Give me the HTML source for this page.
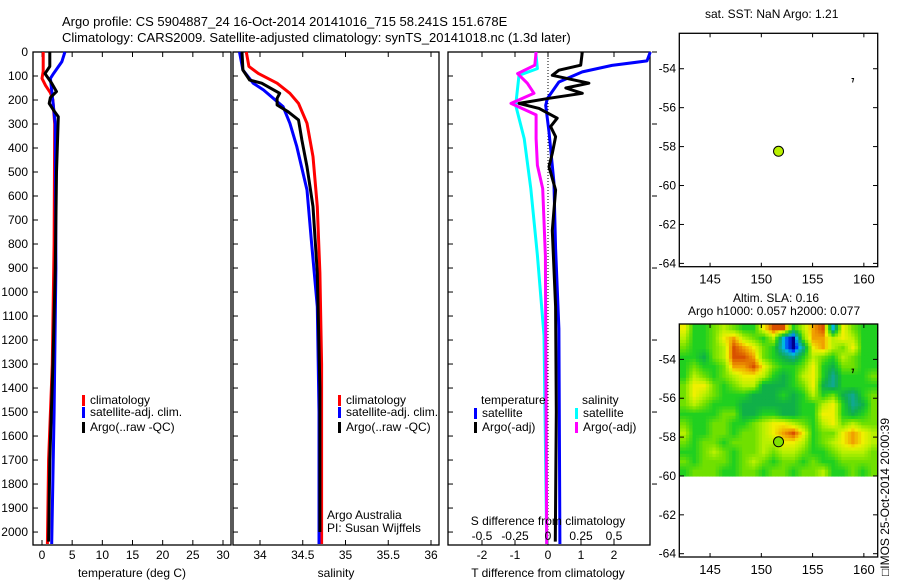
<!DOCTYPE html>
<html><head><meta charset="utf-8"><style>
html,body{margin:0;padding:0;background:#fff;}
svg{display:block;font-family:"Liberation Sans",sans-serif;}
text{font-size:12px;fill:#000;}
</style></head><body>
<svg id="c" width="900" height="580" viewBox="0 0 900 580" xmlns="http://www.w3.org/2000/svg">
<text x="62" y="26" style="font-size:13px">Argo profile: CS 5904887_24 16-Oct-2014 20141016_715 58.241S 151.678E</text>
<text x="62" y="42" style="font-size:13px">Climatology: CARS2009. Satellite-adjusted climatology: synTS_20141018.nc (1.3d later)</text>
<text x="705" y="18">sat. SST: NaN Argo: 1.21</text>
<text x="733" y="302">Altim. SLA: 0.16</text>
<text x="688" y="315">Argo h1000: 0.057 h2000: 0.077</text>
<text transform="translate(889,576) rotate(-90)">□IMOS 25-Oct-2014 20:00:39</text>
<g id="g"></g>
</svg>
<script>
// ---------- data ----------
const depthTicks = [0,100,200,300,400,500,600,700,800,900,1000,1100,1200,1300,1400,1500,1600,1700,1800,1900,2000];
const tempTicks = [0,5,10,15,20,25,30];
const salTicks = [34,34.5,35,35.5,36];
const salTickLabels = ["34","34.5","35","35.5","36"];
const tdiffTicks = [-2,-1,0,1,2];
const sdiffTicks = [-0.5,-0.25,0,0.25,0.5];
const sdiffTickLabels = ["-0.5","-0.25","0","0.25","0.5"];

const tempClimDepth = [0,80,110,140,170,200,300,800,1300,1700,2050];
const tempClimVal   = [0.2,0.2,0.0,0.6,1.4,1.8,2.1,2.0,1.7,1.1,0.9];
const tempSatDepth  = [0,40,90,110,160,300,900,1500,2050];
const tempSatVal    = [3.8,3.3,1.9,1.4,1.6,2.2,2.3,2.0,1.6];
const tempArgoDepth = [0,60,90,130,165,190,214,242,270,500,900,1300,1700,2040];
const tempArgoVal   = [1.3,1.3,0.5,1.6,2.4,1.4,1.2,1.9,2.7,2.4,2.2,1.8,1.3,1.1];

const salClimDepth = [0,60,89,130,172,214,297,436,644,921,1300,2050];
const salClimVal   = [33.84,33.87,33.98,34.20,34.35,34.45,34.55,34.62,34.67,34.70,34.72,34.72];
const salSatDepth  = [0,75,130,158,228,297,394,575,783,1061,1500,2050];
const salSatVal    = [33.76,33.80,33.92,34.04,34.27,34.35,34.43,34.55,34.60,34.67,34.69,34.69];
const salArgoDepth = [0,75,117,130,172,193,221,249,283,367,478,644,921,1400,2000];
const salArgoVal   = [33.79,33.80,33.88,34.02,34.23,34.20,34.20,34.33,34.45,34.49,34.55,34.62,34.67,34.70,34.70];

const dTSatDepth  = [0,37,56,83,125,194,222,333,542,819,1153,2050];
const dTSatVal    = [3.1,3.0,1.94,1.04,0.33,-0.02,-0.07,0.03,0.18,0.23,0.33,0.36];
const dTArgoDepth = [0,55,76,97,130,150,172,193,214,235,276,311,353,422,478,575,744,1061,1500,2040];
const dTArgoVal   = [1.04,0.99,0.33,0.13,1.24,0.54,1.04,0.03,-0.88,-0.27,0.28,0.08,0.23,0.13,0.03,0.23,0.13,0.23,0.25,0.22];
const dSSatDepth  = [0,69,97,222,361,569,847,1180,2050];
const dSSatVal    = [-0.093,-0.08,-0.22,-0.245,-0.18,-0.13,-0.08,-0.03,-0.01];
const dSArgoDepth = [0,55,90,130,172,214,262,361,472,569,850,2050];
const dSArgoVal   = [-0.09,-0.10,-0.23,-0.157,-0.106,-0.28,-0.09,-0.09,-0.08,-0.04,-0.02,-0.01];

const latTicks = [-54,-56,-58,-60,-62,-64];
const lonTicks = [145,150,155,160];
const argoLon = 151.678, argoLat = -58.241;
const slaRows = [
[3,0,0,1,2,1,0,0,3,5,5,0,2,4,5,-3,3,1,0,0],
[2,0,0,1,3,4,2,1,0,2,-3,-5,1,4,4,2,3,2,0,0],
[1,0,0,1,2,5,4,3,1,0,-3,-5,-2,3,4,2,1,3,0,0],
[0,0,-1,1,2,5,5,4,1,0,-1,-2,0,2,1,0,2,1,0,0],
[0,1,0,0,1,4,4,5,3,1,0,0,1,3,0,-1,1,1,0,0],
[0,2,1,0,1,2,3,3,2,0,-1,0,2,3,0,-2,0,0,0,1],
[1,3,3,1,0,1,2,2,-1,-1,-1,0,1,3,-1,-2,0,0,0,0],
[1,3,2,1,0,0,0,-1,-1,-1,0,-1,0,2,0,1,-1,-2,0,1],
[1,2,1,0,0,0,-1,-1,-1,-1,-1,-1,0,0,2,3,0,-2,-1,1],
[0,0,0,0,1,1,-1,-1,0,0,-1,-1,0,0,3,3,0,-1,0,1],
[1,0,0,1,1,0,0,1,2,3,3,2,1,0,2,3,1,2,1,1],
[2,0,0,1,1,0,1,1,2,3,4,5,3,0,1,1,3,4,3,2],
[1,0,1,1,0,1,1,1,2,2,3,3,2,0,1,2,3,4,3,2],
[0,0,1,2,1,0,1,1,2,1,2,2,1,0,0,1,2,2,2,1],
[1,0,1,1,1,0,1,2,1,0,1,1,0,1,0,0,1,1,1,1],
[0,1,1,1,0,0,1,1,0,1,1,0,1,1,2,0,0,1,0,1]
];

// ---------- helpers ----------
const NS="http://www.w3.org/2000/svg";
const G=document.getElementById('g');
function el(tag,attrs,parent){const e=document.createElementNS(NS,tag);for(const k in attrs)e.setAttribute(k,attrs[k]);(parent||G).appendChild(e);return e;}
function lin(d0,d1,r0,r1){return v=>r0+(v-d0)*(r1-r0)/(d1-d0);}
const TOP=52,BOT=545;
const yD=lin(0,2054,TOP,BOT);
const P1={l:33,r:231}, P2={l:233,r:439}, P3={l:448,r:650};
const xT=lin(0,30,42,223);
const xS=lin(34,36,260,431);
const xDT=lin(0,1,548,581);
const xDS=lin(0,0.25,548,581);

function box(p,name){
  const r=el('rect',{x:p.l,y:TOP,width:p.r-p.l,height:BOT-TOP,fill:'none',stroke:'#000','stroke-width':1.3});
  
  
  depthTicks.forEach(d=>{const y=yD(d);
    el('line',{x1:p.l,x2:p.l+5,y1:y,y2:y,stroke:'#000'});
  });
}
function line(xs,ds,xf,color,w,name){
  const pts=xs.map((v,i)=>xf(v).toFixed(1)+','+yD(ds[i]).toFixed(1)).join(' ');
  const pl=el('polyline',{points:pts,fill:'none',stroke:color,'stroke-width':w,'stroke-linejoin':'round'});
  
  
}
function txt(x,y,s,anchor,name,size){
  const t=el('text',{x:x,y:y,'text-anchor':anchor||'start'});
  if(size)t.style.fontSize=size+'px';
  t.textContent=s;
  
  
  return t;
}
function legend(x,y,color,label,name){
  el('rect',{x:x,y:y-9,width:3,height:11,fill:color});
  txt(x+8,y,label,'start',name);
}

// ---------- panel 1 temperature ----------
box(P1,'temperature-panel');
depthTicks.forEach(d=>txt(28,yD(d)+4,String(d),'end','depth-tick-label'));
tempTicks.forEach(t=>{el('line',{x1:xT(t),x2:xT(t),y1:TOP,y2:TOP+5,stroke:'#000'});el('line',{x1:xT(t),x2:xT(t),y1:BOT,y2:BOT-5,stroke:'#000'});txt(xT(t),559,String(t),'middle','temp-tick-label');});
txt(132,577,'temperature (deg C)','middle','temperature-axis-title');
line(tempClimVal,tempClimDepth,xT,'#ff0000',3,'temp-climatology-line');
line(tempSatVal,tempSatDepth,xT,'#0000ff',3,'temp-satellite-line');
line(tempArgoVal,tempArgoDepth,xT,'#000000',3,'temp-argo-line');
legend(82,404,'#ff0000','climatology','legend-climatology');
legend(82,416,'#0000ff','satellite-adj. clim.','legend-satellite');
legend(82,431,'#000000','Argo(..raw -QC)','legend-argo');

// ---------- panel 2 salinity ----------
box(P2,'salinity-panel');
salTicks.forEach((s,i)=>{el('line',{x1:xS(s),x2:xS(s),y1:TOP,y2:TOP+5,stroke:'#000'});el('line',{x1:xS(s),x2:xS(s),y1:BOT,y2:BOT-5,stroke:'#000'});txt(xS(s),559,salTickLabels[i],'middle','salinity-tick-label');});
txt(336,577,'salinity','middle','salinity-axis-title');
line(salClimVal,salClimDepth,xS,'#ff0000',3,'sal-climatology-line');
line(salSatVal,salSatDepth,xS,'#0000ff',3,'sal-satellite-line');
line(salArgoVal,salArgoDepth,xS,'#000000',3,'sal-argo-line');
legend(338,404,'#ff0000','climatology','legend-climatology-2');
legend(338,416,'#0000ff','satellite-adj. clim.','legend-satellite-2');
legend(338,431,'#000000','Argo(..raw -QC)','legend-argo-2');
txt(327,519,'Argo Australia','start','credit-argo-australia');
txt(327,532,'PI: Susan Wijffels','start','credit-pi');

// ---------- panel 3 differences ----------
box(P3,'difference-panel');
depthTicks.forEach(d=>{if(d%300===0){const y=yD(d);el('line',{x1:652,x2:657,y1:y,y2:y,stroke:'#000'});}});
el('line',{x1:xDT(0),x2:xDT(0),y1:TOP,y2:BOT,stroke:'#000','stroke-dasharray':'1,2'});
tdiffTicks.forEach(t=>{el('line',{x1:xDT(t),x2:xDT(t),y1:TOP,y2:TOP+5,stroke:'#000'});el('line',{x1:xDT(t),x2:xDT(t),y1:BOT,y2:BOT-5,stroke:'#000'});txt(xDT(t),559,String(t),'middle','tdiff-tick-label');});
line(dSSatVal,dSSatDepth,xDS,'#00ffff',3,'sdiff-satellite-line');
line(dSArgoVal,dSArgoDepth,xDS,'#ff00ff',3,'sdiff-argo-line');
line(dTSatVal,dTSatDepth,xDT,'#0000ff',3,'tdiff-satellite-line');
line(dTArgoVal,dTArgoDepth,xDT,'#000000',3,'tdiff-argo-line');
txt(548,577,'T difference from climatology','middle','tdiff-axis-title');
txt(548,525,'S difference from climatology','middle','sdiff-axis-title');
sdiffTicks.forEach((s,i)=>txt(xDS(s),540,sdiffTickLabels[i],'middle','sdiff-tick-label'));
txt(481,404,'temperature','start','legend-temperature-header');
legend(474,417,'#0000ff','satellite','legend-tdiff-satellite');
legend(474,431,'#000000','Argo(-adj)','legend-tdiff-argo');
txt(582,404,'salinity','start','legend-salinity-header');
legend(575,417,'#00ffff','satellite','legend-sdiff-satellite');
legend(575,431,'#ff00ff','Argo(-adj)','legend-sdiff-argo');

// ---------- maps ----------
const xL=lin(142,161.35,679.3,877.7);
function mapAxes(top,bot,name){
  const yL=lin(-52.18,-64.17,top,bot);
  const r=el('rect',{x:679.3,y:top,width:198.4,height:bot-top,fill:'none',stroke:'#000','stroke-width':1.3});
  
  
  latTicks.forEach(l=>{const y=yL(l);el('line',{x1:679.3,x2:684,y1:y,y2:y,stroke:'#000'});el('line',{x1:877.7,x2:873,y1:y,y2:y,stroke:'#000'});txt(676,y+4,String(l),'end','lat-tick-label');});
  lonTicks.forEach(l=>{const x=xL(l);el('line',{x1:x,x2:x,y1:top,y2:top+4,stroke:'#000'});el('line',{x1:x,x2:x,y1:bot,y2:bot-4,stroke:'#000'});txt(x,bot+17,String(l),'middle','lon-tick-label',13);});
  return yL;
}
// continuous colormap over value -5..5
const cmapStops=[[-5,[0,0,140]],[-4,[0,60,255]],[-3,[0,184,224]],[-2,[16,168,144]],[-1,[16,176,72]],[0,[32,208,32]],[1,[112,224,0]],[2,[184,240,0]],[3,[240,240,0]],[4,[240,160,0]],[5,[216,80,0]],[6,[170,30,0]]];
function cmap(v){
  v=Math.max(-5,Math.min(6,v));
  for(let i=0;i<cmapStops.length-1;i++){const a=cmapStops[i],b=cmapStops[i+1];
    if(v<=b[0]){const t=(v-a[0]);return 'rgb('+a[1].map((c,k)=>Math.round(c+(b[1][k]-c)*t)).join(',')+')';}}
  return 'rgb(170,30,0)';
}
const yL2=lin(-52.18,-64.17,324,557);
const nR=slaRows.length,nC=slaRows[0].length;
const latStep=(60-52.18)/nR, lonStep=(161.35-142)/nC;
function sample(fi,fj){ // bilinear on cell centres
  const i=Math.max(0,Math.min(nR-1,fi-0.5)), j=Math.max(0,Math.min(nC-1,fj-0.5));
  const i0=Math.floor(i),j0=Math.floor(j),i1=Math.min(nR-1,i0+1),j1=Math.min(nC-1,j0+1);
  const di=i-i0,dj=j-j0;
  return slaRows[i0][j0]*(1-di)*(1-dj)+slaRows[i0][j1]*(1-di)*dj+slaRows[i1][j0]*di*(1-dj)+slaRows[i1][j1]*di*dj;
}
const SUB=3;
for(let i=0;i<nR*SUB;i++){for(let j=0;j<nC*SUB;j++){
  const fi=(i+0.5)/SUB,fj=(j+0.5)/SUB;
  const x0=xL(142+j/SUB*lonStep),x1=xL(142+(j+1)/SUB*lonStep),y0=yL2(-52.18-i/SUB*latStep),y1=yL2(-52.18-(i+1)/SUB*latStep);
  const c=el('rect',{x:x0,y:y0,width:x1-x0+0.6,height:y1-y0+0.6,fill:cmap(sample(fi,fj))});
  
  
}}
const yL1=mapAxes(33.3,266.7,'sst-map');
mapAxes(324,557,'sla-map');
const dot1=el('circle',{cx:xL(argoLon),cy:yL1(argoLat),r:5,fill:'#b8f000',stroke:'#000','stroke-width':1});


const dot2=el('circle',{cx:xL(argoLon),cy:yL2(argoLat),r:5,fill:'#80e000',stroke:'#000','stroke-width':1});


[yL1,yL2].forEach(f=>{el('path',{d:'M'+xL(158.8)+' '+f(-54.5)+' l2 0 l-1 4',fill:'none',stroke:'#000','stroke-width':1});});
</script>
</body></html>
